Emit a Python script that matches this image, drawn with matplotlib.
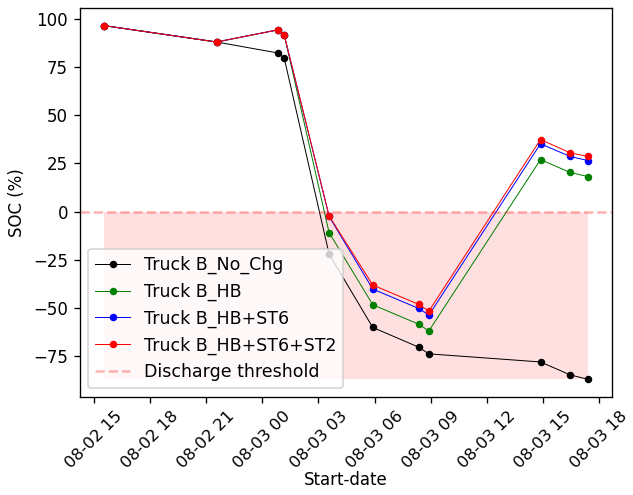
import matplotlib
matplotlib.use("Agg")
import matplotlib.pyplot as plt
import matplotlib.dates as mdates
import numpy as np
import pandas as pd

# trip start times
start_dates = pd.to_datetime([
    "2020-08-02 15:32", "2020-08-02 21:33", "2020-08-03 00:50", "2020-08-03 01:10",
    "2020-08-03 03:34", "2020-08-03 05:54", "2020-08-03 08:21", "2020-08-03 08:54",
    "2020-08-03 14:52", "2020-08-03 16:27", "2020-08-03 17:24",
])

soc_no_chg = [96.5, 88.0, 82.3, 79.7, -22.0, -60.1, -70.3, -73.8, -78.0, -84.7, -87.0]
soc_hb = [96.5, 88.0, 94.3, 91.7, -10.9, -48.3, -58.4, -61.9, 27.0, 20.3, 18.2]
soc_hb_st6 = [96.5, 88.0, 94.3, 91.7, -2.5, -40.2, -50.2, -53.7, 35.2, 28.6, 26.5]
soc_hb_st6_st2 = [96.5, 88.0, 94.3, 91.7, -2.2, -38.1, -48.1, -51.6, 37.4, 30.5, 28.6]

labels = ["Truck B_No_Chg", "Truck B_HB", "Truck B_HB+ST6", "Truck B_HB+ST6+ST2"]
threshold = 0

dpi = 120
fig, ax = plt.subplots(figsize=(633 / dpi, 495 / dpi), dpi=dpi)
fig.subplots_adjust(left=0.126, right=0.967, top=0.984, bottom=0.198)

ax.plot(start_dates, soc_no_chg, 'k.-', lw=0.6, ms=7, label=labels[0])
ax.plot(start_dates, soc_hb, 'g.-', lw=0.6, ms=7, label=labels[1])
ax.plot(start_dates, soc_hb_st6, 'b.-', lw=0.6, ms=7, label=labels[2])
ax.plot(start_dates, soc_hb_st6_st2, 'r.-', lw=0.6, ms=7, label=labels[3])
ax.axhline(threshold, color='red', ls='--', alpha=0.3, label='Discharge threshold')
ax.fill_between(start_dates, threshold, min(soc_no_chg), color='red', alpha=0.12, lw=0)

ax.xaxis.set_major_formatter(mdates.DateFormatter('%m-%d %H'))
plt.xticks(rotation=45)
ax.tick_params(axis='x', labelsize=9.8)
ax.set_xlabel('Start-date', labelpad=0)
ax.set_ylabel('SOC (%)')
ax.legend(loc='lower left', prop={'size': 10.4})

fig.savefig('out.png', dpi=dpi)
